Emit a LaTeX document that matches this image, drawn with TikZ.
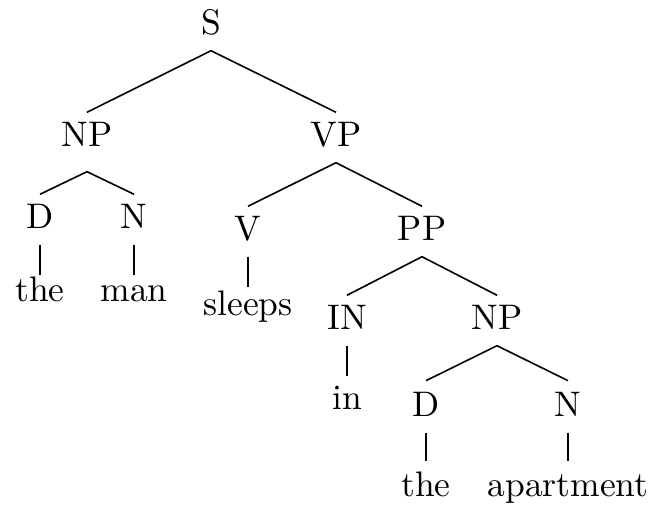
\documentclass[tikz,border=0pt]{standalone}
\begin{document}
\begin{tikzpicture}[x=0.2817pt,y=-0.2817pt,
  lbl/.style={anchor=base,inner sep=1.13pt,text height=8.45pt,text depth=3.1pt,font=\normalsize},
  leaf/.style={lbl,text depth=1pt},
  br/.style={line width=0.45pt}]
\useasboundingbox (0,0) rectangle (655,506);
\node[lbl] (S) at (211,35) {S};
\node[lbl,text depth=5.63pt] (NPa) at (87,147) {NP};
\node[lbl] (VP) at (336,147) {VP};
\node[lbl] (Da) at (40,229) {D};
\node[lbl] (Na) at (134,229) {N};
\node[lbl] (V) at (248,241) {V};
\node[lbl] (PP) at (422,241) {PP};
\node[leaf,text height=6.2pt] (thea) at (40,302) {the};
\node[leaf,text height=6.2pt] (man) at (134,302) {man};
\node[leaf,text height=6.76pt] (sleeps) at (248,316) {sleeps};
\node[lbl] (IN) at (347,330) {IN};
\node[lbl] (NPb) at (497,330) {NP};
\node[leaf,text height=8.17pt] (in) at (347,410) {in};
\node[lbl,text height=8.9pt] (Db) at (426,417) {D};
\node[lbl,text height=8.9pt] (Nb) at (568,417) {N};
\node[leaf,text height=8.73pt] (theb) at (426,497) {the};
\node[leaf,text height=8.73pt] (apt) at (568,497) {apartment};
\draw[br] (S.south) -- (NPa.north);
\draw[br] (S.south) -- (VP.north);
\draw[br] (NPa.south) -- (Da.north);
\draw[br] (NPa.south) -- (Na.north);
\draw[br] (Da.south) -- (thea.north);
\draw[br] (Na.south) -- (man.north);
\draw[br] (VP.south) -- (V.north);
\draw[br] (VP.south) -- (PP.north);
\draw[br] (V.south) -- (sleeps.north);
\draw[br] (PP.south) -- (IN.north);
\draw[br] (PP.south) -- (NPb.north);
\draw[br] (IN.south) -- (in.north);
\draw[br] (NPb.south) -- (Db.north);
\draw[br] (NPb.south) -- (Nb.north);
\draw[br] (Db.south) -- (theb.north);
\draw[br] (Nb.south) -- (apt.north);
\end{tikzpicture}
\end{document}
